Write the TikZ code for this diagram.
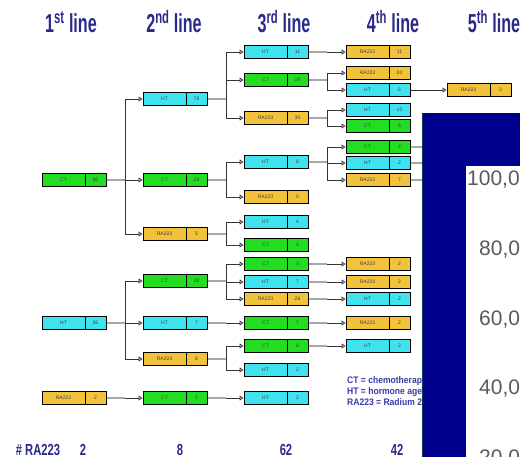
\documentclass[tikz,border=0pt]{standalone}
\usepackage{fontspec}
\setmainfont{Liberation Sans}
\usetikzlibrary{arrows.meta}
\definecolor{cyanbox}{HTML}{3FE3F0}
\definecolor{greenbox}{HTML}{22DD22}
\definecolor{goldbox}{HTML}{F2C23A}
\definecolor{navy}{HTML}{2A2A8A}
\definecolor{legblue}{HTML}{3A3AA8}
\definecolor{panelblue}{HTML}{00008E}
\definecolor{paneledge}{HTML}{0B3A4A}
\definecolor{stemgray}{HTML}{A8A8A8}
\definecolor{axisgray}{HTML}{5A5A5A}
\tikzset{
  box/.style={draw=black, line width=1pt, minimum width=64pt, minimum height=12.5pt, inner sep=0pt},
  blabel/.style={font=\fontsize{5}{6}\selectfont, text=black!75, inner sep=0pt},
  stem/.style={draw=stemgray, line width=1.3pt},
  brk/.style={draw=black!80, line width=0.8pt},
  arr/.style={draw=black!80, line width=0.8pt, -{Triangle[open, length=4pt, width=5pt]}},
  head/.style={text=navy, anchor=base, inner sep=0pt},
  foot/.style={text=navy, anchor=base, inner sep=0pt},
  legend/.style={text=legblue, anchor=base west, inner sep=0pt},
  axislbl/.style={text=axisgray, anchor=base west, inner sep=0pt, font=\fontsize{21}{24}\selectfont},
}
\newcommand\mybox[6]{%
  \node[box, fill=#4] (#1) at (#2,#3) {};
  \draw[line width=0.8pt] ([xshift=-21pt]#1.north east) -- ([xshift=-21pt]#1.south east);
  \node[blabel] at ([xshift=-10.5pt]#1.center) {#5};
  \node[blabel] at ([xshift=21.5pt]#1.center) {#6};
}
\newcommand\branch[5]{%
  \draw[stem] (#1.east) -- (#1.east -| #2);
  \draw[brk] (#4.west -| #2) -- (#5.west -| #2);
  \foreach \c in {#3}{\draw[arr] (\c.west -| #2) -- (\c.west);}
}
\newcommand\direct[3]{%
  \draw[stem] (#1.east) -- (#1.east -| #3);
  \draw[arr] (#1.east -| #3) -- (#2.west);
}
\newcommand\headtxt[2]{\fontsize{26}{28}\selectfont\bfseries\scalebox{0.62}[1]{#1\textsuperscript{#2} line}}
\newcommand\foottxt[1]{\fontsize{16}{18}\selectfont\bfseries\scalebox{0.7}[1]{#1}}
\newcommand\legtxt[1]{\fontsize{9.5}{11}\selectfont\bfseries\scalebox{0.9}[1]{#1}}
\begin{document}
\begin{tikzpicture}[x=1pt,y=-1pt]
\useasboundingbox (0,0) rectangle (520,457);
\clip (0,0) rectangle (520,457);
\fill[white] (0,0) rectangle (520,457);
% headings
\node[head] (h1) at (71,33) {\headtxt{1}{st}};
\node[head] (h2) at (174,33) {\headtxt{2}{nd}};
\node[head] (h3) at (284,33) {\headtxt{3}{rd}};
\node[head] (h4) at (393,33) {\headtxt{4}{th}};
\node[head] (h5) at (494,33) {\headtxt{5}{th}};
% gap coordinates
\coordinate (g1) at (125,0);
\coordinate (g2) at (226,0);
\coordinate (g3) at (327,0);
\coordinate (edge) at (424,0);
% column 1
\mybox{a1}{74}{180}{greenbox}{CT}{86}
\mybox{a2}{74}{323}{cyanbox}{HT}{26}
\mybox{a3}{74}{398}{goldbox}{RA223}{2}
% column 2
\mybox{b1}{175}{99}{cyanbox}{HT}{78}
\mybox{b2}{175}{180}{greenbox}{CT}{28}
\mybox{b3}{175}{234}{goldbox}{RA223}{5}
\mybox{b4}{175}{281}{greenbox}{CT}{38}
\mybox{b5}{175}{323}{cyanbox}{HT}{7}
\mybox{b6}{175}{359}{goldbox}{RA223}{8}
\mybox{b7}{175}{398}{greenbox}{CT}{2}
% column 3
\mybox{c1}{276}{52}{cyanbox}{HT}{11}
\mybox{c2}{276}{80}{greenbox}{CT}{29}
\mybox{c3}{276}{118}{goldbox}{RA223}{30}
\mybox{c4}{276}{162}{cyanbox}{HT}{8}
\mybox{c5}{276}{197}{goldbox}{RA223}{5}
\mybox{c6}{276}{222}{cyanbox}{HT}{4}
\mybox{c7}{276}{245}{greenbox}{CT}{4}
\mybox{c8}{276}{264}{greenbox}{CT}{3}
\mybox{c9}{276}{282}{cyanbox}{HT}{7}
\mybox{c10}{276}{299}{goldbox}{RA223}{26}
\mybox{c11}{276}{323}{greenbox}{CT}{7}
\mybox{c12}{276}{346}{greenbox}{CT}{6}
\mybox{c13}{276}{370}{cyanbox}{HT}{2}
\mybox{c14}{276}{398}{cyanbox}{HT}{2}
% column 4
\mybox{d1}{378}{52}{goldbox}{RA223}{11}
\mybox{d2}{378}{73}{goldbox}{RA223}{20}
\mybox{d3}{378}{90}{cyanbox}{HT}{6}
\mybox{d4}{378}{110}{cyanbox}{HT}{10}
\mybox{d5}{378}{126}{greenbox}{CT}{6}
\mybox{d6}{378}{147}{greenbox}{CT}{2}
\mybox{d7}{378}{163}{cyanbox}{HT}{2}
\mybox{d8}{378}{180}{goldbox}{RA223}{7}
\mybox{d9}{378}{264}{goldbox}{RA223}{2}
\mybox{d10}{378}{282}{goldbox}{RA223}{2}
\mybox{d11}{378}{299}{cyanbox}{HT}{2}
\mybox{d12}{378}{323}{goldbox}{RA223}{2}
\mybox{d13}{378}{346}{cyanbox}{HT}{2}
% column 5
\mybox{e1}{479}{90}{goldbox}{RA223}{3}
% connectors 1 -> 2
\branch{a1}{g1}{b1,b2,b3}{b1}{b3}
\branch{a2}{g1}{b4,b5,b6}{b4}{b6}
\direct{a3}{b7}{g1}
% 2 -> 3
\branch{b1}{g2}{c1,c2,c3}{c1}{c3}
\branch{b2}{g2}{c4,c5}{c4}{c5}
\branch{b3}{g2}{c6,c7}{c6}{c7}
\branch{b4}{g2}{c8,c9,c10}{c8}{c10}
\direct{b5}{c11}{g2}
\branch{b6}{g2}{c12,c13}{c12}{c13}
\direct{b7}{c14}{g2}
% 3 -> 4
\direct{c1}{d1}{g3}
\branch{c2}{g3}{d2,d3}{d2}{d3}
\branch{c3}{g3}{d4,d5}{d4}{d5}
\branch{c4}{g3}{d6,d7,d8}{d6}{d8}
\direct{c8}{d9}{g3}
\direct{c9}{d10}{g3}
\direct{c10}{d11}{g3}
\direct{c11}{d12}{g3}
\direct{c12}{d13}{g3}
% 4 -> 5
\draw[arr] (d3.east) -- (e1.west);
% stubs running under the panel
\draw[stem] (d6.east) -- (d6.east -| edge);
\draw[stem] (d7.east) -- (d7.east -| edge);
\draw[stem] (d8.east) -- (d8.east -| edge);
% legend
\node[legend] (l1) at (347,384) {\legtxt{CT = chemotherapy}};
\node[legend] (l2) at (347,395) {\legtxt{HT = hormone agents}};
\node[legend] (l3) at (347,406) {\legtxt{RA223 = Radium 223}};
% footer counts
\node[foot] (f0) at (38,455) {\foottxt{\# RA223}};
\node[foot] (f1) at (83,455) {\foottxt{2}};
\node[foot] (f2) at (180,455) {\foottxt{8}};
\node[foot] (f3) at (286,455) {\foottxt{62}};
\node[foot] (f4) at (397,455) {\foottxt{42}};
% overlaid panel
\fill[panelblue] (422,113) rectangle (520,457);
\draw[paneledge, line width=1.5pt] (422.5,113) -- (422.5,457);
\fill[white] (466,166) rectangle (520,457);
\node[axislbl] (y100) at (467,186) {100,0};
\node[axislbl] (y80) at (479,256) {80,0};
\node[axislbl] (y60) at (479,326) {60,0};
\node[axislbl] (y40) at (479,395) {40,0};
\node[axislbl] (y20) at (479,464) {20,0};
\end{tikzpicture}
\end{document}
